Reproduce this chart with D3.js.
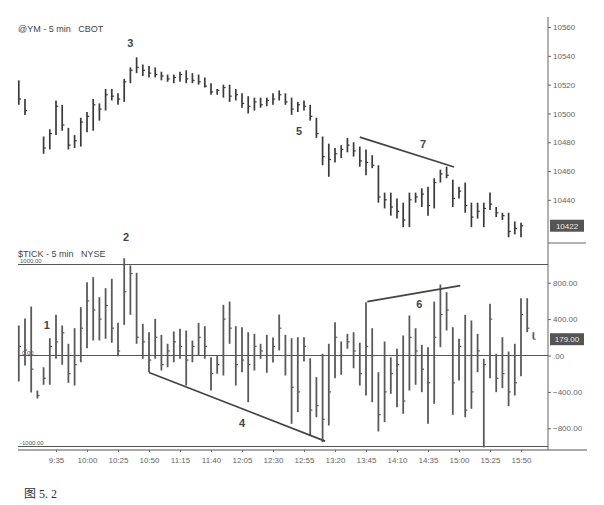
<!DOCTYPE html>
<html><head><meta charset="utf-8">
<script src="https://cdn.jsdelivr.net/npm/d3@7"></script>
<style>body{margin:0;background:#fff}svg{display:block}text{font-family:"Liberation Sans",Arial,sans-serif}</style>
</head><body>
<svg id="c" width="604" height="505"></svg>
<script>
// ---- data ----
// @YM 5-min bars (index = bar number, 5-minute steps)
const ymHigh  = [10523,10510,null,null,10484,10489,10509,10506,10490,10485,10497,10501,10510,10507,10517,10517,10514,10524,10532,10539,
  10534,10533,10532,10529,10527,10527,10529,10530,10528,10527,10525,10521,10517,10520,10520,10517,10514,10512,10511,10511,
  10511,10514,10516,10514,10511,10508,10509,10506,10497,10484,10479,10476,10478,10483,10480,10477,10475,10471,10464,10445,
  10445,10441,10438,10445,10445,10448,10449,10455,10461,10463,10454,10449,10452,10438,10438,10438,10445,10435,10431,10431,
  10425,10424];
const ymLow   = [10506,10499,null,null,10472,10475,10485,10488,10475,10476,10477,10487,10488,10495,10502,10509,10506,10508,10521,10528,
  10526,10525,10525,10523,10522,10521,10522,10521,10521,10520,10518,10513,10513,10511,10508,10509,10504,10500,10502,10504,
  10505,10506,10509,10506,10499,10501,10502,10495,10483,10464,10456,10466,10469,10473,10470,10463,10457,10462,10438,10434,
  10429,10427,10421,10421,10438,10435,10429,10434,10452,10455,10435,10441,10431,10421,10427,10421,10433,10428,10426,10414,
  10416,10414];
const ymClose = [10510,10502,null,null,10476,10486,10505,10492,10478,10481,10494,10498,10506,10503,10513,10512,10510,10522,10530,10532,
  10530,10528,10527,10526,10524,10525,10527,10524,10523,10522,10519,10515,10516,10518,10512,10513,10507,10505,10508,10506,
  10509,10510,10513,10508,10503,10506,10505,10498,10486,10470,10468,10472,10475,10478,10474,10467,10466,10464,10442,10440,
  10435,10432,10426,10440,10442,10444,10436,10452,10458,10457,10441,10446,10436,10428,10432,10434,10437,10431,10429,10418,
  10420,10422];
// $TICK 5-min bars
const tkHigh  = [330,407,538,-385,-129,190,447,330,129,300,531,806,861,641,740,843,359,1069,989,909,
  348,256,403,227,129,264,293,275,165,359,322,-19,0,557,593,322,311,256,238,129,
  227,198,450,227,190,201,201,-30,-238,19,129,366,154,238,256,140,586,300,-184,154,
  -19,74,220,440,300,118,91,593,780,696,311,184,447,385,238,-36,568,19,201,44,
  129,630,630,256];
const tkLow   = [-286,-110,-407,-473,-322,-322,-36,-102,-300,-330,-74,80,165,165,184,140,-8,337,447,129,
  -36,-184,-36,-165,-129,-74,-36,-330,-74,0,-36,-385,-201,-220,129,-330,-184,-513,-165,-36,
  -190,-77,55,-220,-751,-623,-66,-879,-678,-953,-769,-249,-212,74,-140,-330,-440,-513,-835,-733,
  -421,-568,-641,-385,-322,-403,-751,-531,91,275,-652,-275,-678,-586,-184,-1010,-249,-403,-359,-557,
  -440,-227,256,183];
const tkClose = [100,60,-150,-440,-250,100,150,250,-200,-100,300,600,500,400,550,300,50,700,900,200,
  150,-50,200,-100,50,150,100,-50,100,200,100,-200,-100,400,300,-100,-50,-100,100,50,
  0,100,300,0,-350,-400,100,-600,-550,-700,-400,200,0,150,50,-200,100,0,-650,-400,
  -200,-100,-500,200,50,-150,-300,200,450,500,-300,100,-600,-400,50,-100,400,-250,-200,-400,
  -300,450,300,179];
const timeTickIdx    = [6,11,16,21,26,31,36,41,46,51,56,61,66,71,76,81];
const timeTickLabels = ["9:35","10:00","10:25","10:50","11:15","11:40","12:05","12:30","12:55","13:20","13:45","14:10","14:35","15:00","15:25","15:50"];
const ymTicks  = [10440,10460,10480,10500,10520,10540,10560];
const tkTicks  = [-800,-400,0,400,800];
const ymLast = 10422, tkLast = 179;
// annotation labels: [text, bar index, value]
const ymNotes = [["3",18,10546],["5",45.2,10485],["7",65.2,10476]];
const tkNotes = [["2",17.3,1258],["1",4.5,291],["4",36,-786],["6",64.6,522]];
// trend lines: [[idx,val],[idx,val]]
const ymLines = [[[55,10483.5],[70.2,10462.8]]];
const tkLines = [[[21,-187],[49.4,-940]],[[56.2,593],[71.2,769]]];

// ---- drawing ----
const svg = d3.select("#c");
const axX = 548;
const x = d3.scaleLinear().domain([0,83]).range([18.8,533.4]);
const yT = d3.scaleLinear().domain([10410,10567]).range([243,17]);
const yB = d3.scaleLinear().domain([-1000,1000]).range([446.5,264.5]);

const ink = "#333";
// frame lines
svg.append("line").attr("x1",axX).attr("x2",axX).attr("y1",17).attr("y2",450).attr("stroke","#666").attr("stroke-width",1);
svg.append("line").attr("x1",axX).attr("x2",586).attr("y1",243).attr("y2",243).attr("stroke","#666").attr("stroke-width",1.2);
[1000,0,-1000].forEach(v=>{
  svg.append("line").attr("x1",18).attr("x2",axX).attr("y1",yB(v)).attr("y2",yB(v)).attr("stroke","#555").attr("stroke-width",1.1);
});
svg.append("line").attr("x1",18).attr("x2",587).attr("y1",450).attr("y2",450).attr("stroke","#555").attr("stroke-width",1.1);

// OHLC-style bars
function drawBars(hi,lo,cl,y,color,w){
  const g = svg.append("g");
  const idx = d3.range(hi.length).filter(i=>hi[i]!=null);
  g.selectAll("line.b").data(idx).join("line")
    .attr("x1",i=>x(i)).attr("x2",i=>x(i)).attr("y1",i=>y(hi[i])).attr("y2",i=>y(lo[i]))
    .attr("stroke",color).attr("stroke-width",w);
  g.selectAll("line.c").data(idx).join("line")
    .attr("x1",i=>x(i)).attr("x2",i=>x(i)+2.2).attr("y1",i=>y(cl[i])).attr("y2",i=>y(cl[i]))
    .attr("stroke",color).attr("stroke-width",1.2);
}
drawBars(ymHigh,ymLow,ymClose,yT,"#3a3a3a",1.7);
drawBars(tkHigh,tkLow,tkClose,yB,"#5a5a5a",1.8);

// trend lines
ymLines.forEach(l=>svg.append("line").attr("x1",x(l[0][0])).attr("y1",yT(l[0][1])).attr("x2",x(l[1][0])).attr("y2",yT(l[1][1])).attr("stroke","#444").attr("stroke-width",1.8));
tkLines.forEach(l=>svg.append("line").attr("x1",x(l[0][0])).attr("y1",yB(l[0][1])).attr("x2",x(l[1][0])).attr("y2",yB(l[1][1])).attr("stroke","#444").attr("stroke-width",1.8));

// annotations
ymNotes.forEach(n=>svg.append("text").attr("x",x(n[1])).attr("y",yT(n[2])).attr("text-anchor","middle").attr("font-size",11).attr("font-weight","bold").attr("fill","#444").text(n[0]));
tkNotes.forEach(n=>svg.append("text").attr("x",x(n[1])).attr("y",yB(n[2])).attr("text-anchor","middle").attr("font-size",11).attr("font-weight","bold").attr("fill","#444").text(n[0]));

// right axes
function styleAxis(g){
  g.select(".domain").remove();
  g.selectAll(".tick line").attr("stroke","#666");
  g.selectAll(".tick text").attr("font-size",8).attr("fill","#666").attr("font-family","Liberation Sans, Arial, sans-serif");
}
svg.append("g").attr("transform",`translate(${axX},0)`)
  .call(d3.axisRight(yT).tickValues(ymTicks).tickSize(3).tickPadding(2).tickFormat(d3.format("d"))).call(styleAxis);
svg.append("g").attr("transform",`translate(${axX},0)`)
  .call(d3.axisRight(yB).tickValues(tkTicks).tickSize(3).tickPadding(2).tickFormat(v=>v===0?".00":d3.format(".2f")(v))).call(styleAxis);
svg.append("g").attr("transform","translate(0,450)")
  .call(d3.axisBottom(x).tickValues(timeTickIdx).tickSize(2).tickPadding(5).tickFormat((d,i)=>timeTickLabels[i])).call(styleAxis);

// last-value boxes
function lastBox(y,v,label){
  svg.append("rect").attr("x",axX+2).attr("y",y(v)-6).attr("width",34).attr("height",12).attr("fill","#555");
  svg.append("text").attr("x",axX+19).attr("y",y(v)+3).attr("text-anchor","middle").attr("font-size",8).attr("fill","#e8e8e8").text(label);
}
lastBox(yT,ymLast,String(ymLast));
lastBox(yB,tkLast,d3.format(".2f")(tkLast));

// titles and small scale labels
svg.append("text").attr("x",18).attr("y",32).attr("font-size",9).attr("fill","#444").attr("xml:space","preserve").text("@YM - 5 min   CBOT");
svg.append("text").attr("x",18).attr("y",257).attr("font-size",9).attr("fill","#444").attr("xml:space","preserve").text("$TICK - 5 min   NYSE");
svg.append("text").attr("x",20).attr("y",yB(1000)-2).attr("font-size",6).attr("fill","#555").text("1000.00");
svg.append("text").attr("x",20).attr("y",yB(-1000)-2).attr("font-size",6).attr("fill","#555").text("-1000.00");
svg.append("text").attr("x",22).attr("y",yB(0)-1).attr("font-size",6).attr("fill","#555").text("0.00");

// caption
const cap = svg.append("text").attr("x",24).attr("y",498).attr("font-size",12).attr("fill","#333");
cap.append("tspan").attr("font-family","Noto Sans CJK SC").text("图");
cap.append("tspan").attr("font-family","Liberation Serif, serif").text(" 5. 2");
</script>
</body></html>
